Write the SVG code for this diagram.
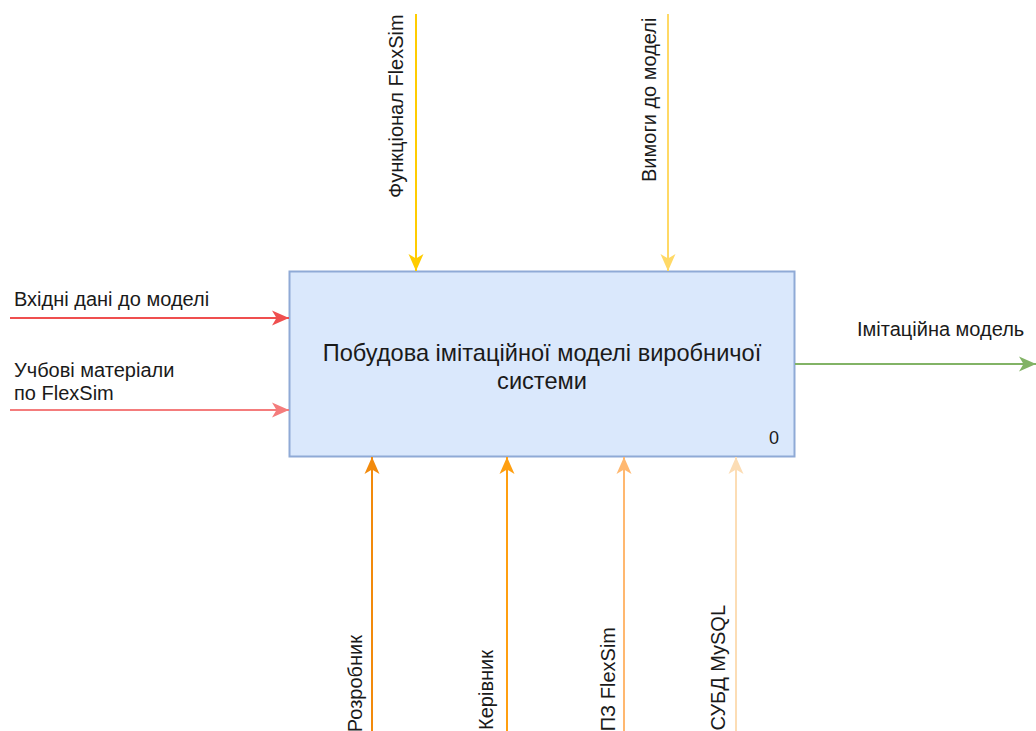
<svg xmlns="http://www.w3.org/2000/svg" width="1036" height="731" viewBox="0 0 1036 731">
  <style>
    text { font-family: "Liberation Sans", Arial, sans-serif; fill: #1a1a1a; }
    .lbl { font-size: 20px; }
    .num { font-size: 18px; }
    .main { font-size: 23.6px; text-anchor: middle; }
    .arc { fill: none; stroke-width: 2; }
  </style>
  <defs>
    <!-- classic arrowheads, one per connector colour -->
    <marker id="ah-gold" markerUnits="userSpaceOnUse" viewBox="0 0 17 16" markerWidth="17" markerHeight="16" refX="17" refY="8" orient="auto"><path d="M0,0.5 L17,8 L0,15.5 L4.5,8 Z" fill="#FFCC00"/></marker>
    <marker id="ah-yellow" markerUnits="userSpaceOnUse" viewBox="0 0 17 16" markerWidth="17" markerHeight="16" refX="17" refY="8" orient="auto"><path d="M0,0.5 L17,8 L0,15.5 L4.5,8 Z" fill="#FFD966"/></marker>
    <marker id="ah-red" markerUnits="userSpaceOnUse" viewBox="0 0 17 16" markerWidth="17" markerHeight="16" refX="17" refY="8" orient="auto"><path d="M0,0.5 L17,8 L0,15.5 L4.5,8 Z" fill="#EF4F4F"/></marker>
    <marker id="ah-pink" markerUnits="userSpaceOnUse" viewBox="0 0 17 16" markerWidth="17" markerHeight="16" refX="17" refY="8" orient="auto"><path d="M0,0.5 L17,8 L0,15.5 L4.5,8 Z" fill="#F47C7C"/></marker>
    <marker id="ah-green" markerUnits="userSpaceOnUse" viewBox="0 0 17 16" markerWidth="17" markerHeight="16" refX="17" refY="8" orient="auto"><path d="M0,0.5 L17,8 L0,15.5 L4.5,8 Z" fill="#82B366"/></marker>
    <marker id="ah-orange1" markerUnits="userSpaceOnUse" viewBox="0 0 17 16" markerWidth="17" markerHeight="16" refX="17" refY="8" orient="auto"><path d="M0,0.5 L17,8 L0,15.5 L4.5,8 Z" fill="#F28A0C"/></marker>
    <marker id="ah-orange2" markerUnits="userSpaceOnUse" viewBox="0 0 17 16" markerWidth="17" markerHeight="16" refX="17" refY="8" orient="auto"><path d="M0,0.5 L17,8 L0,15.5 L4.5,8 Z" fill="#FF9F10"/></marker>
    <marker id="ah-orange3" markerUnits="userSpaceOnUse" viewBox="0 0 17 16" markerWidth="17" markerHeight="16" refX="17" refY="8" orient="auto"><path d="M0,0.5 L17,8 L0,15.5 L4.5,8 Z" fill="#FFB870"/></marker>
    <marker id="ah-orange4" markerUnits="userSpaceOnUse" viewBox="0 0 17 16" markerWidth="17" markerHeight="16" refX="17" refY="8" orient="auto"><path d="M0,0.5 L17,8 L0,15.5 L4.5,8 Z" fill="#FCDDB5"/></marker>
  </defs>

  <rect width="1036" height="731" fill="#ffffff"/>

  <!-- function block A0 -->
  <g id="node-a0">
    <rect x="289.5" y="271.5" width="505" height="185" fill="#DAE8FC" stroke="#8FAAD6" stroke-width="2"/>
    <text class="main" x="542" y="361">Побудова імітаційної моделі виробничої</text>
    <text class="main" x="542" y="389">системи</text>
    <text class="num" x="769" y="444">0</text>
  </g>

  <!-- ICOM connectors -->
  <g id="connectors">
    <!-- controls -->
    <line class="arc" x1="416" y1="14" x2="416" y2="271" stroke="#FFCC00" marker-end="url(#ah-gold)"/>
    <line class="arc" x1="668" y1="14" x2="668" y2="271" stroke="#FFD966" marker-end="url(#ah-yellow)"/>
    <!-- inputs -->
    <line class="arc" x1="10" y1="318" x2="289" y2="318" stroke="#EF4F4F" marker-end="url(#ah-red)"/>
    <line class="arc" x1="10" y1="410" x2="289" y2="410" stroke="#F47C7C" marker-end="url(#ah-pink)"/>
    <!-- output -->
    <line class="arc" x1="795" y1="364" x2="1036" y2="364" stroke="#82B366" marker-end="url(#ah-green)"/>
    <!-- mechanisms -->
    <line class="arc" x1="372" y1="731" x2="372" y2="457" stroke="#F28A0C" marker-end="url(#ah-orange1)"/>
    <line class="arc" x1="507" y1="731" x2="507" y2="457" stroke="#FF9F10" marker-end="url(#ah-orange2)"/>
    <line class="arc" x1="624" y1="731" x2="624" y2="457" stroke="#FFB870" marker-end="url(#ah-orange3)"/>
    <line class="arc" x1="736" y1="731" x2="736" y2="457" stroke="#FCDDB5" marker-end="url(#ah-orange4)"/>
  </g>

  <!-- connector labels -->
  <g id="labels">
    <text class="lbl" x="14" y="306">Вхідні дані до моделі</text>
    <text class="lbl" x="14" y="377">Учбові матеріали</text>
    <text class="lbl" x="14" y="400">по FlexSim</text>
    <text class="lbl" x="857" y="336">Імітаційна модель</text>
    <text class="lbl" transform="translate(403 198) rotate(-90)">Функціонал FlexSim</text>
    <text class="lbl" transform="translate(656 182) rotate(-90)">Вимоги до моделі</text>
    <text class="lbl" text-anchor="end" transform="translate(361.5 635) rotate(-90)">Розробник</text>
    <text class="lbl" text-anchor="end" transform="translate(492.5 650) rotate(-90)">Керівник</text>
    <text class="lbl" text-anchor="end" transform="translate(614.5 627) rotate(-90)">ПЗ FlexSim</text>
    <text class="lbl" text-anchor="end" transform="translate(724.5 605) rotate(-90)">СУБД MySQL</text>
  </g>
</svg>
